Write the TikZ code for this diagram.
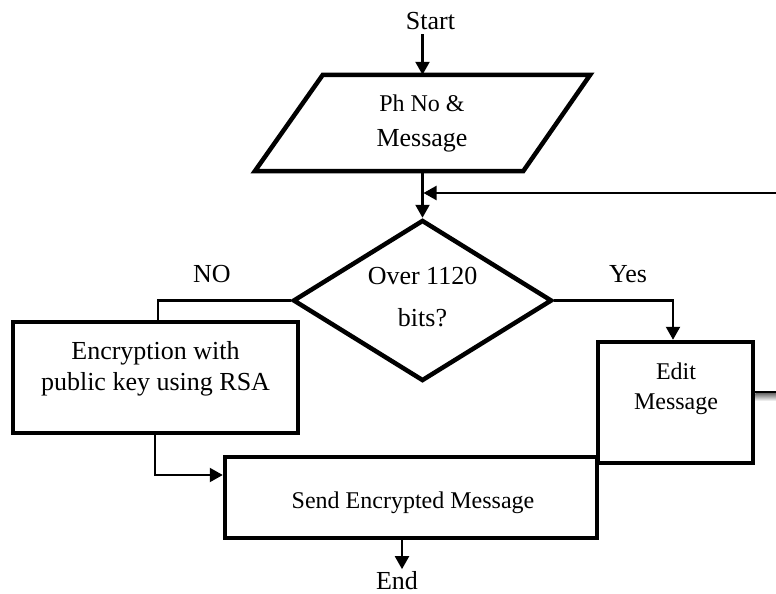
\documentclass[tikz,border=0pt]{standalone}
\usepackage{fontspec}
\setmainfont{Liberation Serif}
\usetikzlibrary{arrows.meta,shapes.geometric}
\begin{document}
\begin{tikzpicture}[x=1pt,y=-1pt,
  big/.style={font=\fontsize{26}{31}\selectfont},
  small/.style={font=\fontsize{24}{30}\selectfont},
  frame/.style={draw, line width=4.5pt, inner sep=0pt},
  conn/.style={line width=2.2pt},
  flow/.style={conn, -{Triangle[length=13pt,width=14pt]}},
  txt/.style={inner sep=0pt, align=center}]
\useasboundingbox (0,0) rectangle (776,594);

% start and input
\node[big, txt, inner sep=4pt] (start) at (430.5,21.5) {Start};
\node[minimum width=335pt, minimum height=96pt, inner sep=0pt] (input) at (422.5,123) {};
\draw[line width=4.5pt, line join=miter]
  (input.south west) -- ([xshift=68pt]input.north west) -- (input.north east)
  -- ([xshift=-67pt]input.south east) -- cycle;
\node[small, txt] (inputtxt) at (422,123.5)
  {Ph No \&\\[5pt]{\fontsize{26}{31}\selectfont Message}};

% decision
\node[diamond, draw, line width=4.5pt, inner sep=0pt, aspect=1.6,
  minimum width=259pt, minimum height=161pt] (test) at (422.5,300.5) {};
\node[big, txt] (testtxt) at (422.5,297) {Over 1120\\[11pt]bits?};
\node[big, txt] (no) at (212,274.5) {NO};
\node[big, txt] (yes) at (628,274) {Yes};

% process boxes
\node[frame, minimum width=285pt, minimum height=111pt] (enc) at (155.5,377.5) {};
\node[big, txt] (enctxt) at (155.5,368.5) {Encryption with\\public key using RSA};
\node[frame, minimum width=155pt, minimum height=121pt] (edit) at (675.5,402.5) {};
\node[small, txt] (edittxt) at (676,388.5) {Edit\\Message};
\node[frame, minimum width=372pt, minimum height=81pt] (send) at (411,497.5) {};
\node[small, txt] (sendtxt) at (413,502.5) {Send Encrypted Message};
\node[big, txt, inner sep=2pt] (end) at (397,580.5) {End};

% loop ends leaving the page on the right
\coordinate (loopin) at (776,193);
\coordinate (loopout) at (776,392);

% connectors
\draw[flow] (input.north |- start.south) -- (input.north);
\draw[flow] (input.south) -- (test.north);
\draw[flow, shorten >=1pt] (loopin) -- (loopin -| input.south);
\draw[conn] (test.west) -| ([xshift=2.5pt]enc.north);
\draw[flow] (test.east) -| ([xshift=-2.5pt]edit.north);
\draw[flow] ([xshift=-0.5pt]enc.south) |- ([yshift=22.5pt]send.west);
\draw[flow] ([xshift=-9pt]send.south) -- ([xshift=-9pt]send.south |- end.north);
\shade[top color=black!55, bottom color=white] ([yshift=-1.5pt]loopout -| edit.east) rectangle ([yshift=-9pt]loopout);
\draw[conn] (loopout -| edit.east) -- (loopout);
\end{tikzpicture}
\end{document}
